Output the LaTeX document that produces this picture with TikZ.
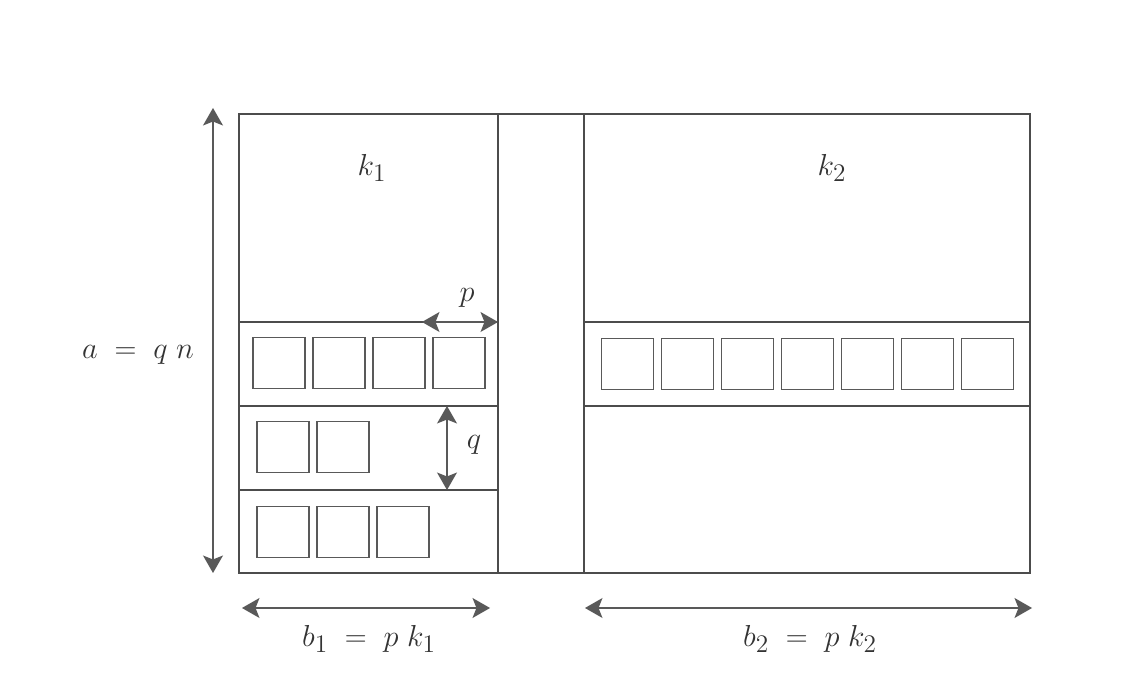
\documentclass[tikz,border=0pt]{standalone}
\usepackage{tikz}
\usetikzlibrary{arrows.meta, positioning, calc}
\tikzset{
  frame/.style={draw=black!70, line width=0.6pt},
  cell/.style={draw=black!65, line width=0.6pt, minimum width=1.04cm, minimum height=1.02cm, inner sep=0pt},
  dim/.style={{Stealth[length=3.5mm, width=4mm, inset=0.8mm]}-{Stealth[length=3.5mm, width=4mm, inset=0.8mm]},
    draw=black!65, fill=black!55, line width=0.6pt},
  lbl/.style={text=black!80, font=\fontsize{19}{22}\selectfont},
}

\begin{document}
\begin{tikzpicture}
    \useasboundingbox (0,0) rectangle (22.42,13.88);
    % frames
    \draw[frame] (4.78,2.42) rectangle (9.96,11.6);
    \draw[frame] (9.96,2.42) rectangle (11.68,11.6);
    \draw[frame] (11.68,2.42) rectangle (20.6,11.6);
    \draw[frame] (4.78,7.44) -- (9.96,7.44);
    \draw[frame] (4.78,5.76) -- (9.96,5.76);
    \draw[frame] (4.78,4.08) -- (9.96,4.08);
    \draw[frame] (11.68,7.44) -- (20.6,7.44);
    \draw[frame] (11.68,5.76) -- (20.6,5.76);
    % blocks
    \foreach \i [count=\n] in {5.58,6.78,7.98,9.18}
      \node[cell] (r1c\n) at (\i,6.62) {};
    \foreach \i [count=\n] in {5.66,6.86}
      \node[cell] (r2c\n) at (\i,4.94) {};
    \foreach \i [count=\n] in {5.66,6.86,8.06}
      \node[cell] (r3c\n) at (\i,3.24) {};
    \foreach \n in {0,...,6}
      \node[cell] (rc\n) at (12.55+1.2*\n,6.6) {};
    % dimension ends
    \coordinate (atop) at (4.26,11.72);
    \coordinate (abot) at (4.26,2.42);
    \coordinate (pl) at (8.44,7.44);
    \coordinate (pr) at (9.96,7.44);
    \coordinate (qt) at (8.94,5.76);
    \coordinate (qb) at (8.94,4.08);
    \coordinate (bl1) at (4.84,1.72);
    \coordinate (br1) at (9.8,1.72);
    \coordinate (bl2) at (11.7,1.72);
    \coordinate (br2) at (20.64,1.72);
    \draw[dim] (abot) -- (atop);
    \draw[dim] (pl) -- (pr);
    \draw[dim] (qt) -- (qb);
    \draw[dim] (bl1) -- (br1);
    \draw[dim] (bl2) -- (br2);
    % labels
    \node[lbl] (k1) at (7.44,10.52) {$k_1$};
    \node[lbl] (k2) at (16.64,10.52) {$k_2$};
    \node[lbl] (an) at (2.76,6.78) {$a \;=\; q\;n$};
    \node[lbl] (plbl) at (9.34,7.92) {$p$};
    \node[lbl] (qlbl) at (9.48,4.98) {$q$};
    \node[lbl] (b1) at (7.38,1.1) {$b_1 \;=\; p\;k_1$};
    \node[lbl] (b2) at (16.2,1.1) {$b_2 \;=\; p\;k_2$};
  \end{tikzpicture}
\end{document}
